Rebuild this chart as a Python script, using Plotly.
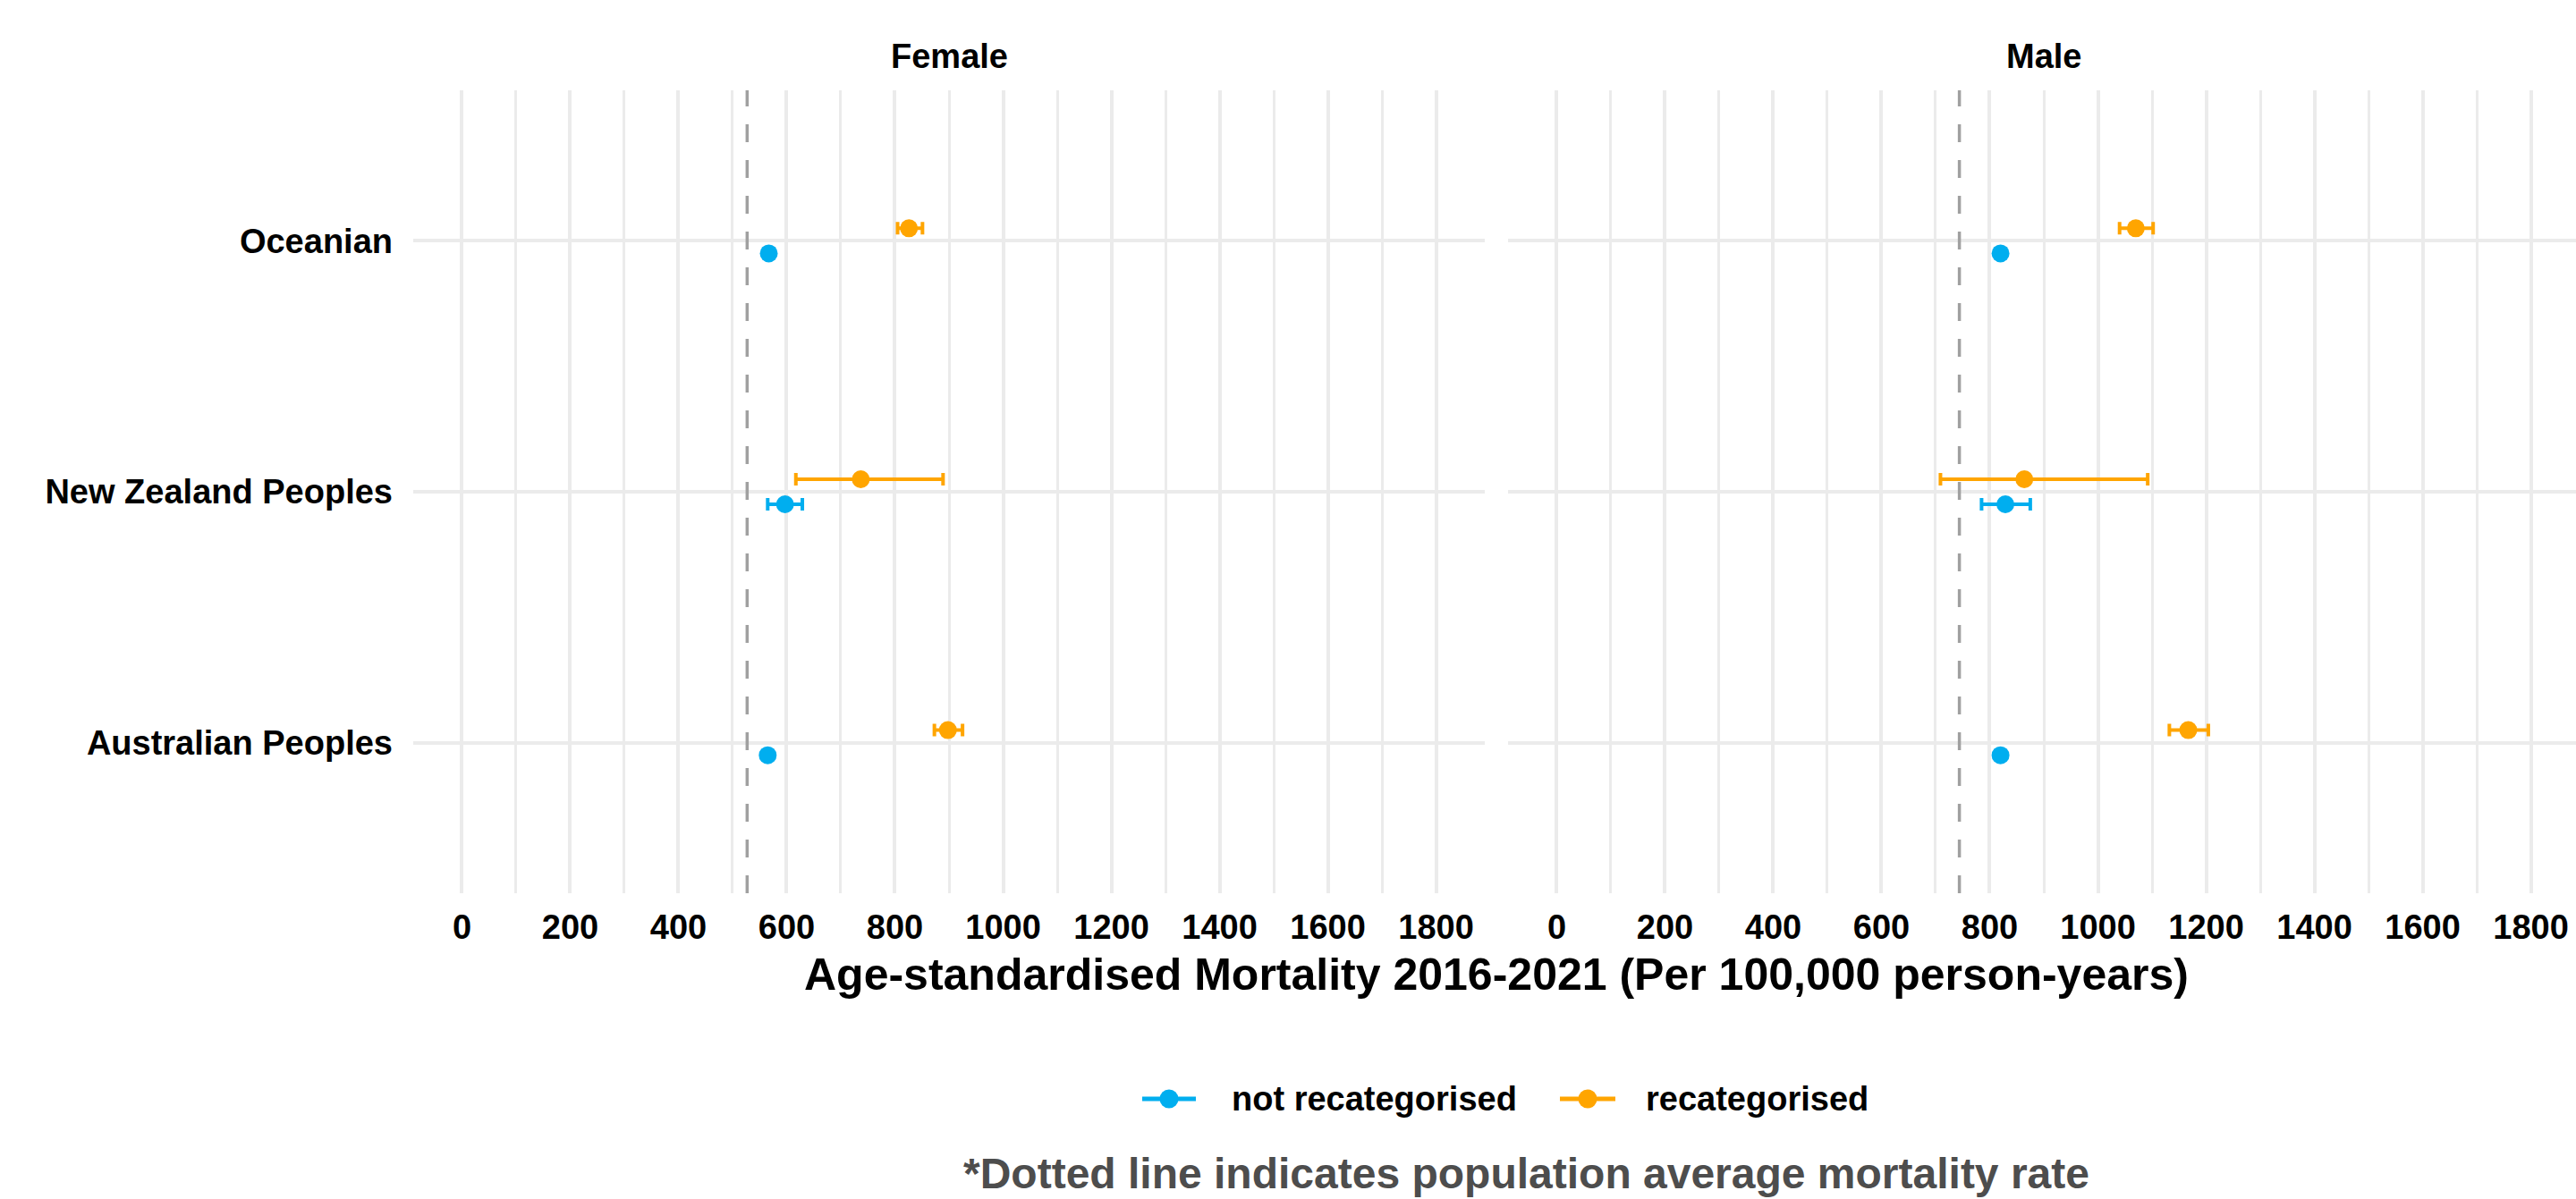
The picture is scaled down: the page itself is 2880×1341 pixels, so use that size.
import plotly.graph_objects as go

W, H = 2880, 1341

# ---------------- data ----------------
groups = ["Oceanian", "New Zealand Peoples", "Australian Peoples"]  # top to bottom
sexes = ["Female", "Male"]
series = ["not recategorised", "recategorised"]
series_colors = ["#00AEEF", "#FFA500"]

# Female estimates and 95% CI
f_not_est = [567, 597, 565]
f_not_lo = [559, 565, 557]
f_not_hi = [575, 629, 573]
f_rec_est = [826, 737, 898]
f_rec_lo = [805, 617, 873]
f_rec_hi = [851, 889, 925]

# Male estimates and 95% CI
m_not_est = [820, 829, 820]
m_not_lo = [812, 785, 812]
m_not_hi = [828, 875, 828]
m_rec_est = [1070, 864, 1167]
m_rec_lo = [1040, 709, 1132]
m_rec_hi = [1102, 1092, 1204]

# population average mortality rate (dotted line)
pop_avg = [527, 744]

x_ticks = [0, 200, 400, 600, 800, 1000, 1200, 1400, 1600, 1800]
x_minor = [100, 300, 500, 700, 900, 1100, 1300, 1500, 1700]

x_title = "Age-standardised Mortality 2016-2021 (Per 100,000 person-years)"
caption = "*Dotted line indicates population average mortality rate"

data = {
    "Female": [(f_not_est, f_not_lo, f_not_hi), (f_rec_est, f_rec_lo, f_rec_hi)],
    "Male": [(m_not_est, m_not_lo, m_not_hi), (m_rec_est, m_rec_lo, m_rec_hi)],
}

# ---------------- layout geometry ----------------
FONT = "Liberation Sans, Arial, sans-serif"
GRID = "#EBEBEB"
panel_px = [(462, 1660), (1686, 2880)]
top_px, bot_px = 101, 999
x_lo, x_hi = -90, 1890
px_per_unit = (panel_px[0][1] - panel_px[0][0]) / (x_hi - x_lo)
dodge = [-0.05, 0.05]
n = len(groups)
ypos = [n - i for i in range(n)]

fig = go.Figure()

for si, sex in enumerate(sexes):
    xa = "x" if si == 0 else "x2"
    ya = "y" if si == 0 else "y2"
    for k, name in enumerate(series):
        est, lo, hi = data[sex][k]
        fig.add_trace(go.Scatter(
            x=est,
            y=[p + dodge[k] for p in ypos],
            mode="markers",
            name=name,
            xaxis=xa, yaxis=ya,
            marker=dict(size=20, color=series_colors[k]),
            error_x=dict(type="data", symmetric=False,
                         array=[h - e for h, e in zip(hi, est)],
                         arrayminus=[e - l for e, l in zip(est, lo)],
                         color=series_colors[k], thickness=4, width=7),
            showlegend=False,
            hovertemplate=sex + " - " + name + ": %{x}<extra></extra>",
        ))
    fig.add_shape(type="line", xref=xa, yref=ya + " domain",
                  x0=pop_avg[si], x1=pop_avg[si], y0=0, y1=1,
                  line=dict(color="#A0A0A0", width=3.5, dash="20px,20px"),
                  layer="above")

ydom = [1 - bot_px / H, 1 - top_px / H]
common_x = dict(
    tickvals=x_ticks,
    ticktext=[str(t) for t in x_ticks],
    showgrid=True, gridcolor=GRID, gridwidth=4,
    minor=dict(tickvals=x_minor, showgrid=True, gridcolor=GRID, gridwidth=2.5),
    zeroline=False, showline=False, ticks="",
    tickfont=dict(family=FONT, size=38, color="black", weight="bold"),
    ticklabelstandoff=12,
    fixedrange=True,
)
male_w = panel_px[1][1] - panel_px[1][0]
male_hi = x_lo + male_w / px_per_unit

fig.update_layout(
    width=W, height=H,
    margin=dict(l=0, r=0, t=0, b=0),
    paper_bgcolor="white", plot_bgcolor="white",
    showlegend=False,
    xaxis=dict(domain=[panel_px[0][0] / W, panel_px[0][1] / W], range=[x_lo, x_hi], anchor="y", **common_x),
    xaxis2=dict(domain=[panel_px[1][0] / W, 1.0], range=[x_lo, male_hi], anchor="y2", **common_x),
    yaxis=dict(domain=ydom, range=[0.4, n + 0.6], anchor="x",
               tickvals=ypos, ticktext=groups,
               showgrid=True, gridcolor=GRID, gridwidth=4,
               zeroline=False, showline=False, ticks="",
               tickfont=dict(family=FONT, size=38, color="black", weight="bold"),
               ticklabelstandoff=22, fixedrange=True),
    yaxis2=dict(domain=ydom, range=[0.4, n + 0.6], anchor="x2", matches="y",
                tickvals=ypos, showticklabels=False,
                showgrid=True, gridcolor=GRID, gridwidth=4,
                zeroline=False, showline=False, ticks="", fixedrange=True),
)

# facet strip titles
for si, sex in enumerate(sexes):
    x0, x1 = panel_px[si]
    x1 = min(x1 + (4 if si == 1 else 0), 2884)
    fig.add_annotation(text=sex, xref="paper", yref="paper",
                       x=((x0 + x1) / 2) / W, y=1 - 63 / H,
                       xanchor="center", yanchor="middle", showarrow=False,
                       font=dict(family=FONT, size=38, color="black", weight="bold"))

# shared x-axis title
fig.add_annotation(text=x_title, xref="paper", yref="paper",
                   x=1673 / W, y=1 - 1090 / H, xanchor="center", yanchor="middle",
                   showarrow=False,
                   font=dict(family=FONT, size=50, color="black", weight="bold"))

# legend (drawn manually to match the original key glyphs)
leg_y = 1229
leg_items = [(1277, 1337, 1375), (1744, 1806, 1838)]
for k, name in enumerate(series):
    lx0, lx1, tx = leg_items[k]
    c = series_colors[k]
    fig.add_shape(type="line", xref="paper", yref="paper",
                  x0=lx0 / W, x1=lx1 / W, y0=1 - leg_y / H, y1=1 - leg_y / H,
                  line=dict(color=c, width=5))
    cx = (lx0 + lx1) / 2
    r = 10.5
    fig.add_shape(type="circle", xref="paper", yref="paper",
                  x0=(cx - r) / W, x1=(cx + r) / W,
                  y0=1 - (leg_y + r) / H, y1=1 - (leg_y - r) / H,
                  fillcolor=c, line=dict(width=0))
    fig.add_annotation(text=name, xref="paper", yref="paper",
                       x=tx / W, y=1 - leg_y / H, xanchor="left", yanchor="middle",
                       showarrow=False,
                       font=dict(family=FONT, size=38, color="black", weight="bold"))

# caption
fig.add_annotation(text=caption, xref="paper", yref="paper",
                   x=1707 / W, y=1 - 1312 / H, xanchor="center", yanchor="middle",
                   showarrow=False,
                   font=dict(family=FONT, size=48, color="#4D4D4D", weight="bold"))

fig.write_html("out.html",
               config={"displayModeBar": False},
               post_script="document.body.style.margin='0';document.body.style.overflow='hidden';")
